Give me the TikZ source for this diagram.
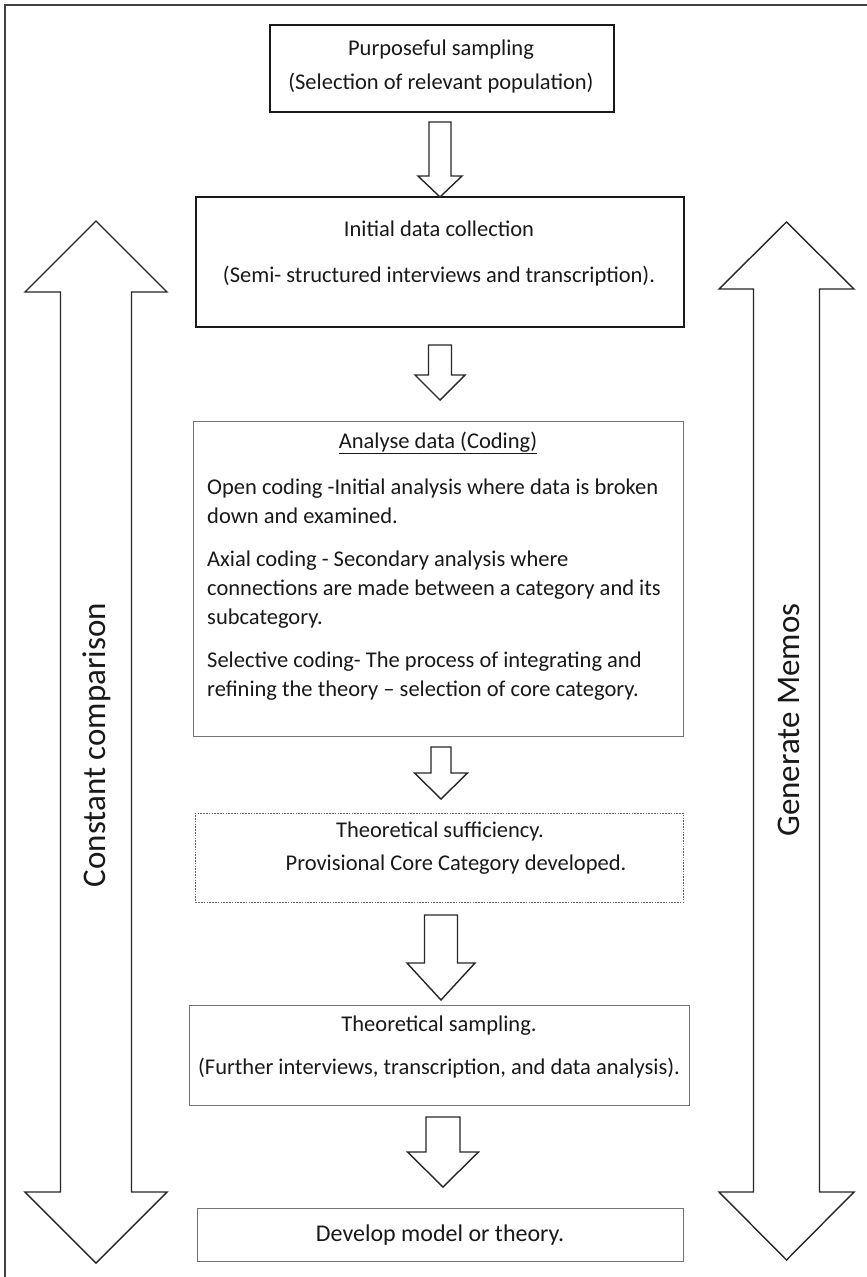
\documentclass[tikz,border=0pt]{standalone}
\usepackage{fontspec}
\setmainfont{Carlito}
\begin{document}
\begin{tikzpicture}[x=1pt,y=-1pt,
  thickbox/.style={draw=black!90,line width=1.8pt},
  thinbox/.style={draw=black!55,line width=1.1pt},
  dotbox/.style={draw=black!60,line width=0.8pt,dash pattern=on 1.6pt off 1.2pt},
  arrowline/.style={draw=black!85,line width=1.4pt,line join=miter,fill=white},
  txt/.style={font=\fontsize{22.5}{26}\selectfont,text=black!90,inner sep=0pt},
  bigtxt/.style={font=\fontsize{33}{38}\selectfont,text=black!90,inner sep=0pt}]
\useasboundingbox (0,0) rectangle (867,1277);
% outer frame (left and top edges)
\draw[black!75,line width=1.3pt] (5,1277) -- (5,5) -- (867,5);

% boxes
\node[thickbox,minimum width=344,minimum height=87,anchor=north west] (b1) at (269,24) {};
\node[thickbox,minimum width=488,minimum height=130,anchor=north west] (b2) at (195,196) {};
\node[thinbox,minimum width=490,minimum height=315,anchor=north west] (b3) at (193,421) {};
\node[dotbox,minimum width=488,minimum height=89,anchor=north west] (b4) at (195,813) {};
\node[thinbox,minimum width=500,minimum height=100,anchor=north west] (b5) at (189,1005) {};
\node[thinbox,minimum width=486,minimum height=53,anchor=north west] (b6) at (197,1208) {};

% box texts
\node[txt] (t1a) at (441,50) {Purposeful sampling};
\node[txt] (t1b) at (441,83) {(Selection of relevant population)};
\node[txt] (t2a) at (439,229) {Initial data collection};
\node[txt] (t2b) at (439,276) {(Semi- structured interviews and transcription).};
\node[txt,anchor=base] (t3t) at (438,448) {\underline{Analyse data (Coding)}};
\node[txt,anchor=base west] (t3a) at (207,494) {Open coding -Initial analysis where data is broken};
\node[txt,anchor=base west] (t3b) at (207,523) {down and examined.};
\node[txt,anchor=base west] (t3c) at (207,566) {Axial coding - Secondary analysis where};
\node[txt,anchor=base west] (t3d) at (207,595) {connections are made between a category and its};
\node[txt,anchor=base west] (t3e) at (207,624) {subcategory.};
\node[txt,anchor=base west] (t3f) at (207,667) {Selective coding- The process of integrating and};
\node[txt,anchor=base west] (t3g) at (207,696) {refining the theory -- selection of core category.};
\node[txt] (t4a) at (440,831) {Theoretical sufficiency.};
\node[txt] (t4b) at (456,865) {Provisional Core Category developed.};
\node[txt] (t5a) at (439,1026) {Theoretical sampling.};
\node[txt] (t5b) at (439,1068) {(Further interviews, transcription, and data analysis).};
\node[txt,font=\fontsize{24}{28}\selectfont] (t6) at (440,1235) {Develop model or theory.};

% small block arrows between boxes: x, top, shoulder, tip, stem half, head half
\newcommand\BlkArrowDown[6]{%
  \draw[arrowline] (#1-#5,#2) -- (#1+#5,#2) -- (#1+#5,#3) -- (#1+#6,#3)
    -- (#1,#4) -- (#1-#6,#3) -- (#1-#5,#3) -- cycle;}
\BlkArrowDown{440}{122}{176}{197}{11}{22}
\BlkArrowDown{440}{345}{375}{400}{11.5}{25}
\BlkArrowDown{441}{747}{773}{799}{10}{26.5}
\BlkArrowDown{441}{915}{963}{1000}{16.5}{34}
\BlkArrowDown{443}{1117}{1152}{1187}{17}{35.5}

% big double arrows: x, top tip, top shoulder, bottom shoulder, bottom tip, stem half, head half
\newcommand\BlkArrowBoth[7]{%
  \draw[arrowline] (#1,#2) -- (#1+#7,#3) -- (#1+#6,#3) -- (#1+#6,#4) -- (#1+#7,#4)
    -- (#1,#5) -- (#1-#7,#4) -- (#1-#6,#4) -- (#1-#6,#3) -- (#1-#7,#3) -- cycle;}
\BlkArrowBoth{96}{221}{292}{1192}{1263}{35.5}{71}
\BlkArrowBoth{786.5}{222}{289}{1192}{1260}{33}{67.5}

\node[bigtxt,rotate=90] (lc) at (97,745) {Constant comparison};
\node[bigtxt,rotate=90] (lg) at (789,720) {Generate Memos};
\end{tikzpicture}
\end{document}
